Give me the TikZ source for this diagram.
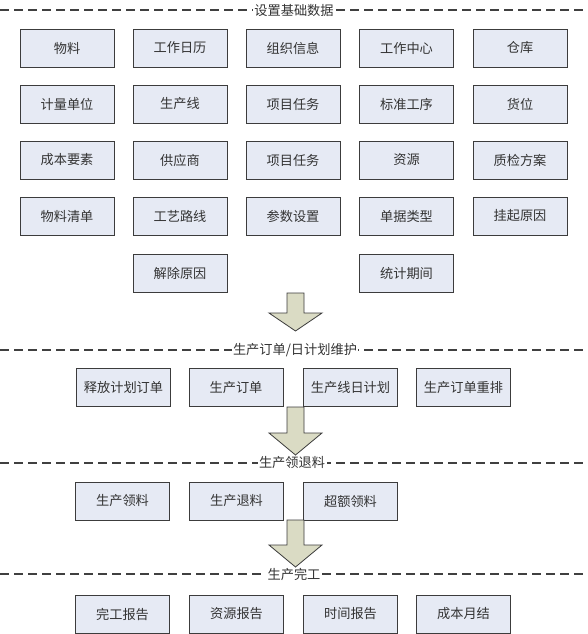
\documentclass[tikz,border=0pt]{standalone}
\usepackage{fontspec}
\setmainfont{Noto Sans CJK SC}
\definecolor{boxfill}{HTML}{E6EAF4}
\definecolor{boxline}{HTML}{3C3C3C}
\definecolor{arrfill}{HTML}{DADBC4}
\definecolor{txt}{HTML}{333333}
\definecolor{dash}{HTML}{404040}
\tikzset{
  mbox/.style={draw=boxline, fill=boxfill, line width=0.9pt, minimum width=94pt, minimum height=38pt, inner sep=0pt, text=txt, font=\fontsize{13.2}{15}\selectfont},
  sepline/.style={draw=dash, line width=1.1pt, dash pattern=on 9pt off 5pt},
  seplabel/.style={fill=white, inner sep=1.5pt, text=txt, font=\fontsize{13.2}{15}\selectfont},
  bigarrow/.style={draw=boxline, fill=arrfill, line width=0.8pt, line join=miter}
}
\newcommand\flowarrow[4]{% cx, top, neck, tip
  \path[bigarrow] (#1-8.5,#2) -- (#1+8.5,#2) -- (#1+8.5,#3) -- (#1+26.5,#3) -- (#1,#4) -- (#1-26.5,#3) -- (#1-8.5,#3) -- cycle;}
\begin{document}
\begin{tikzpicture}[x=1pt,y=-1pt]
\useasboundingbox[fill=white] (0,0) rectangle (587,634);
% separators
\coordinate (s1l) at (0,10); \coordinate (s1r) at (587,10);
\coordinate (s2l) at (0,350); \coordinate (s2r) at (587,350);
\coordinate (s3l) at (0,463); \coordinate (s3r) at (587,463);
\coordinate (s4l) at (0,574); \coordinate (s4r) at (587,574);
\draw[sepline] (s1l) -- (s1r);
\draw[sepline] (s2l) -- (s2r);
\draw[sepline] (s3l) -- (s3r);
\draw[sepline] (s4l) -- (s4r);
\node[seplabel] (t1) at (294,10) {设置基础数据};
\node[seplabel] (t2) at (295,350) {生产订单/日计划维护};
\node[seplabel] (t3) at (292,463) {生产领退料};
\node[seplabel] (t4) at (294,574) {生产完工};
% basic data grid
\node[mbox] (a11) at (67,48) {物料};
\node[mbox] (a12) at (180,48) {工作日历};
\node[mbox] (a13) at (293,48) {组织信息};
\node[mbox] (a14) at (406.5,48) {工作中心};
\node[mbox] (a15) at (520,48) {仓库};
\node[mbox] (a21) at (67,104) {计量单位};
\node[mbox] (a22) at (180,104) {生产线};
\node[mbox] (a23) at (293,104) {项目任务};
\node[mbox] (a24) at (406.5,104) {标准工序};
\node[mbox] (a25) at (520,104) {货位};
\node[mbox] (a31) at (67,160) {成本要素};
\node[mbox] (a32) at (180,160) {供应商};
\node[mbox] (a33) at (293,160) {项目任务};
\node[mbox] (a34) at (406.5,160) {资源};
\node[mbox] (a35) at (520,160) {质检方案};
\node[mbox] (a41) at (67,216) {物料清单};
\node[mbox] (a42) at (180,216) {工艺路线};
\node[mbox] (a43) at (293,216) {参数设置};
\node[mbox] (a44) at (406.5,216) {单据类型};
\node[mbox] (a45) at (520,216) {挂起原因};
\node[mbox] (a52) at (180,273) {解除原因};
\node[mbox] (a54) at (406.5,273) {统计期间};
% orders
\node[mbox] (b1) at (123.5,387.5) {释放计划订单};
\node[mbox] (b2) at (236,387.5) {生产订单};
\node[mbox] (b3) at (350.5,387.5) {生产线日计划};
\node[mbox] (b4) at (463.5,387.5) {生产订单重排};
% material
\node[mbox] (c1) at (122.5,501) {生产领料};
\node[mbox] (c2) at (236.5,501) {生产退料};
\node[mbox] (c3) at (350.5,501) {超额领料};
% completion
\node[mbox] (d1) at (122.5,614) {完工报告};
\node[mbox] (d2) at (236.5,614) {资源报告};
\node[mbox] (d3) at (350.5,614) {时间报告};
\node[mbox] (d4) at (463.5,614) {成本月结};
% arrows
\flowarrow{295.5}{293}{313}{331}
\flowarrow{295.5}{407}{433}{455}
\flowarrow{295.5}{520}{545}{567}
\end{tikzpicture}
\end{document}
